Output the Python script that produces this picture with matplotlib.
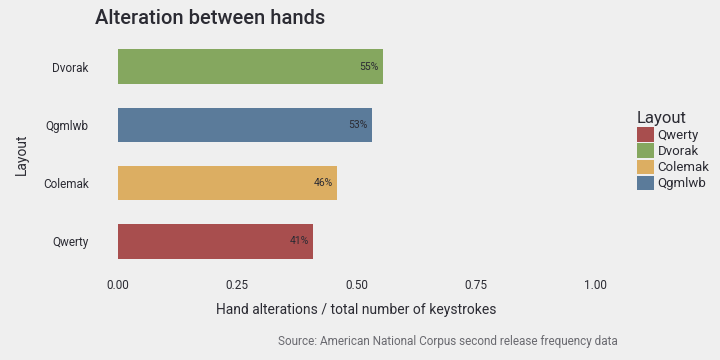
import numpy as np
import matplotlib.pyplot as plt
from matplotlib.patches import Patch

layouts = ["Qwerty", "Colemak", "Qgmlwb", "Dvorak"]
alteration = [0.409, 0.459, 0.532, 0.555]
labels = ["41%", "46%", "53%", "55%"]
colors = {"Qwerty": "#a84e4e", "Dvorak": "#85a75f",
          "Colemak": "#dcae62", "Qgmlwb": "#5b7b9a"}
legend_order = ["Qwerty", "Dvorak", "Colemak", "Qgmlwb"]
xticks = [0.0, 0.25, 0.5, 0.75, 1.0]

bg = "#efefef"
txt = "#2b2b33"
plt.rcParams['font.family'] = ['Roboto', 'DejaVu Sans']

fig = plt.figure(figsize=(7.2, 3.6), dpi=100, facecolor=bg)
ax = fig.add_axes([118 / 720, 84 / 360, 477 / 720, 244 / 360], facecolor=bg)

y = np.arange(len(layouts))
ax.barh(y, alteration, height=0.6, color=[colors[l] for l in layouts])
for yi, v, lab in zip(y, alteration, labels):
    ax.text(v - 0.008, yi, lab, ha='right', va='center', fontsize=7.5, color=txt)

ax.set_xlim(0, 1)
ax.set_ylim(-0.6, 3.6)
ax.set_xticks(xticks)
ax.set_xticklabels(["%.2f" % t for t in xticks], fontsize=8.5, color=txt)
ax.set_yticks(y)
ax.set_yticklabels(layouts, fontsize=8.5, color=txt)
ax.tick_params(axis='x', length=0, pad=2)
ax.tick_params(axis='y', length=0, pad=21)
for s in ax.spines.values():
    s.set_visible(False)

ax.set_xlabel("Hand alterations / total number of keystrokes", fontsize=10,
              color=txt, labelpad=8)
ax.set_ylabel("Layout", fontsize=10, color=txt, labelpad=10)

fig.text(95 / 720, 1 - 18 / 360, "Alteration between hands", fontsize=14.5,
         fontweight='medium', color=txt, va='center', ha='left')
fig.text(618 / 720, 1 - 342 / 360,
         "Source: American National Corpus second release frequency data",
         fontsize=8.5, color="#6a6a70", ha='right', va='center')

handles = [Patch(facecolor=colors[l], label=l) for l in legend_order]
leg = fig.legend(handles=handles, title="Layout", loc='upper left',
                 bbox_to_anchor=(634 / 720, 1 - 108 / 360), frameon=False,
                 fontsize=9.5, title_fontsize=12, handlelength=1.3,
                 handleheight=1.3, handletextpad=0.3, labelspacing=0.12,
                 borderaxespad=0, borderpad=0.2, alignment='left')
for t in leg.get_texts():
    t.set_color(txt)
leg.get_title().set_color(txt)

fig.savefig("out.png", dpi=100, facecolor=bg)
